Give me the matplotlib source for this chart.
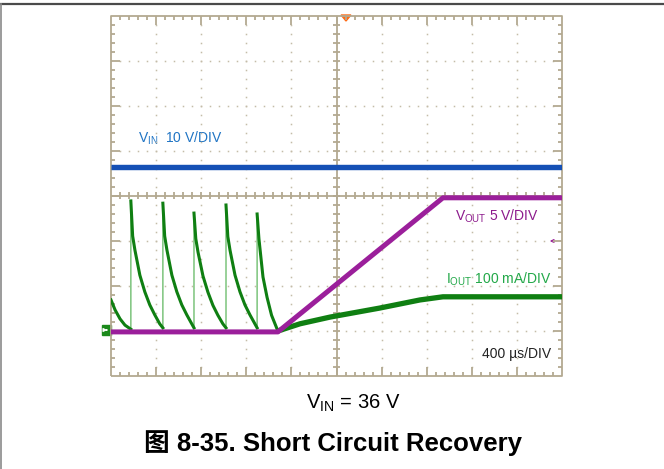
#!/usr/bin/env python3
"""Scope capture: short circuit recovery (VIN = 36 V)."""
import matplotlib

matplotlib.use("Agg")
import matplotlib.pyplot as plt
import numpy as np

plt.rcParams.update({
    "font.family": ["Liberation Sans", "Noto Sans CJK SC"],
    "mathtext.fontset": "custom", "mathtext.rm": "Liberation Sans",
    "mathtext.it": "Liberation Sans", "mathtext.bf": "Liberation Sans:bold",
})

FRAME = "#b3a991"
DOT = "#c4bca8"
BLUE = "#1550b5"
BLUE_TXT = "#1f74c4"
PURPLE = "#9b1f9b"
PURPLE_TXT = "#8c1a8c"
GREEN = "#0f7f12"
GREEN_LT = "#7cc47c"
GREEN_TXT = "#22a848"

# traces in screen divisions (x: 0..10, y: -4..4)
VIN_T = [0.0, 10.0]
VIN_V = [0.64, 0.64]

VOUT_T = [0.0, 3.70, 7.36, 10.0]
VOUT_V = [-3.02, -3.02, -0.04, -0.04]

IOUT_T = [0.00, 0.09, 0.20, 0.31, 0.44,
          0.44, 0.48, 0.53, 0.64, 0.75, 0.86, 0.97, 1.08, 1.15,
          1.15, 1.19, 1.24, 1.35, 1.46, 1.57, 1.68, 1.79, 1.84,
          1.84, 1.88, 1.93, 2.04, 2.15, 2.26, 2.37, 2.48, 2.55,
          2.55, 2.59, 2.64, 2.75, 2.86, 2.97, 3.08, 3.19, 3.24,
          3.24, 3.28, 3.37, 3.46, 3.56, 3.70,
          4.19, 4.86, 5.96, 6.85, 7.36, 10.0]
IOUT_V = [-2.31, -2.53, -2.73, -2.87, -2.96,
          -0.11, -0.89, -1.20, -1.76, -2.13, -2.42, -2.64, -2.84, -2.93,
          -0.16, -0.89, -1.20, -1.76, -2.13, -2.42, -2.64, -2.84, -2.93,
          -0.38, -0.95, -1.25, -1.78, -2.14, -2.43, -2.65, -2.84, -2.93,
          -0.20, -0.90, -1.21, -1.76, -2.13, -2.42, -2.64, -2.84, -2.93,
          -0.40, -0.95, -1.80, -2.25, -2.65, -3.00,
          -2.84, -2.69, -2.49, -2.31, -2.24, -2.24]

W, H = 664, 469
X0, Y0, X1, Y1 = 111, 16, 562, 376      # graticule in pixels

fig = plt.figure(figsize=(W / 100, H / 100), dpi=100)
bg = fig.add_axes([0, 0, 1, 1])
bg.set_xlim(0, W); bg.set_ylim(H, 0); bg.axis("off")

# page border
bg.plot([0, W], [4, 4], color="#4a4a4a", lw=1.6)
bg.plot([0.6, 0.6], [4, H], color="#8a8a8a", lw=1.2)

ax = fig.add_axes([X0 / W, 1 - Y1 / H, (X1 - X0) / W, (Y1 - Y0) / H])
ax.set_xlim(0, 10); ax.set_ylim(-4, 4); ax.axis("off")

# graticule: dotted division lines
minor_x = np.arange(0, 10.001, 0.2)
minor_y = np.arange(-4, 4.001, 0.2)
for gx in range(1, 10):
    if gx == 5:
        continue
    ax.plot(np.full_like(minor_y[1:-1], gx), minor_y[1:-1], "s", ms=1.1, color=DOT, mew=0)
for gy in range(-3, 4):
    if gy == 0:
        continue
    ax.plot(minor_x[1:-1], np.full_like(minor_x[1:-1], gy), "s", ms=1.1, color=DOT, mew=0)

# frame and centre cross with ticks
kw = dict(color=FRAME, lw=1.3, solid_capstyle="butt", clip_on=False)
ax.plot([0, 10, 10, 0, 0], [-4, -4, 4, 4, -4], **kw)
ax.plot([5, 5], [-4, 4], **kw)
ax.plot([0, 10], [0, 0], **kw)
tx, ty = 10 / (X1 - X0), 8 / (Y1 - Y0)   # divisions per pixel
for x in minor_x[1:-1]:
    ln = 9 if abs(x - round(x)) < 1e-6 else 4
    ax.plot([x, x], [4, 4 - ln * ty], **kw)
    ax.plot([x, x], [-4, -4 + ln * ty], **kw)
    ax.plot([x, x], [-3.5 * ty, 3.5 * ty], **kw)
for y in minor_y[1:-1]:
    ln = 9 if abs(y - round(y)) < 1e-6 else 4
    ax.plot([0, ln * tx], [y, y], **kw)
    ax.plot([10, 10 - ln * tx], [y, y], **kw)
    ax.plot([5 - 3.5 * tx, 5 + 3.5 * tx], [y, y], **kw)

# traces
ax.plot(VIN_T, VIN_V, color=BLUE, lw=3.9, solid_capstyle="butt", zorder=4)

it = np.array(IOUT_T); iv = np.array(IOUT_V)
ax.plot(it, iv, color=GREEN_LT, lw=1.1, zorder=3)
jumps = np.where(np.diff(it) == 0)[0] + 1
gt = np.insert(it, jumps, np.nan); gv = np.insert(iv, jumps, np.nan)
ax.plot(gt, gv, color=GREEN, lw=2.2, zorder=4)
ax.plot(it[it >= 3.70], iv[it >= 3.70], color=GREEN, lw=3.8, solid_capstyle="butt", zorder=4)
ax.plot(VOUT_T, VOUT_V, color=PURPLE, lw=3.6, solid_capstyle="butt", zorder=5)

# markers: ground, reference arrow, trigger
bg.add_patch(plt.Rectangle((102, 325), 9, 10, color="#1b8a1b", zorder=6))
bg.annotate("", xy=(110, 330), xytext=(104, 330),
            arrowprops=dict(arrowstyle="-|>", color="white", lw=0.9, mutation_scale=5), zorder=7)
bg.annotate("", xy=(547, 241), xytext=(556, 241),
            arrowprops=dict(arrowstyle="-|>", color=PURPLE, lw=0.9, mutation_scale=5))
bg.add_patch(plt.Polygon([[341, 15], [351, 15], [346, 21]], color="#ff6a14", zorder=6))

# channel labels
bg.text(138, 138, r"V$_\mathregular{IN}$  10 V/DIV", color=BLUE_TXT, fontsize=10, va="center")
bg.text(455, 216, r"V$_\mathregular{OUT}$ 5 V/DIV", color=PURPLE_TXT, fontsize=10, va="center")
bg.text(446, 279, r"I$_\mathregular{OUT}$ 100 mA/DIV", color=GREEN_TXT, fontsize=10, va="center")
bg.text(551, 354, "400 µs/DIV", color="#222222", fontsize=10, va="center", ha="right")

# captions
bg.text(353, 403, r"V$_\mathregular{IN}$ = 36 V", color="black", fontsize=14.5, va="center", ha="center")
bg.text(333, 443, "图 8-35. Short Circuit Recovery", color="black", fontsize=18.5,
        fontweight="bold", va="center", ha="center")

fig.savefig("out.png", dpi=100)
